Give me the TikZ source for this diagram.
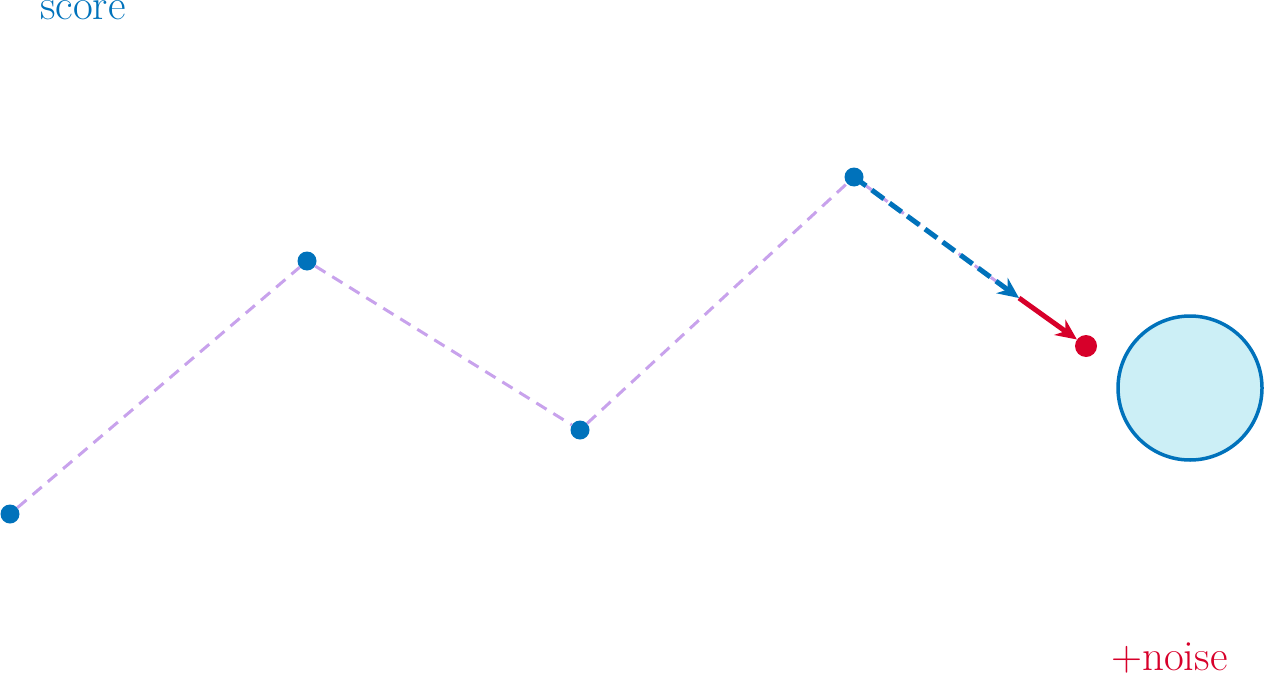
\documentclass[tikz,border=0pt]{standalone}
\usetikzlibrary{arrows.meta}
\definecolor{scoreblue}{RGB}{0,114,187}
\definecolor{noisered}{RGB}{215,0,42}
\definecolor{pathlilac}{RGB}{200,162,236}
\definecolor{ballfill}{RGB}{204,239,246}
\begin{document}
\begin{tikzpicture}[x=1pt,y=-1pt,
    sample/.style ={circle, fill=scoreblue, inner sep=0pt, minimum size=19pt},
    trail/.style ={pathlilac, line width=3pt, dash pattern=on 12pt off 8pt},
    label/.style ={inner sep=0pt, font=\fontsize{43}{44}\selectfont}]
   \useasboundingbox (0,0) rectangle (1265,674);
   \node[sample] (x0) at (10,514) {};
   \node[sample] (x1) at (307,261) {};
   \node[sample] (x2) at (580,430) {};
   \node[sample] (x3) at (854,177) {};
   \node[sample, fill=noisered, minimum size=22pt] (x4) at (1086,346) {};
   \node[circle, draw=scoreblue, fill=ballfill, line width=3.5pt, minimum size=144pt] (ball) at (1190,388) {};
   \coordinate (mid) at (1019,298);
   \draw[trail] (x0) -- (x1) -- (x2) -- (x3) -- (mid);
   \draw[scoreblue, line width=5pt, dash pattern=on 15pt off 7pt, -{Stealth[length=21pt,width=19pt]}] (x3.center) -- (mid);
   \draw[noisered, line width=5pt, -{Stealth[length=21pt,width=19pt]}] (mid) -- (x4);
   \node[label, text=scoreblue, anchor=base west] (score) at (40,20) {score};
   \node[label, text=noisered, anchor=base west] (noise) at (1111,670) {+noise};
 \end{tikzpicture}
\end{document}
